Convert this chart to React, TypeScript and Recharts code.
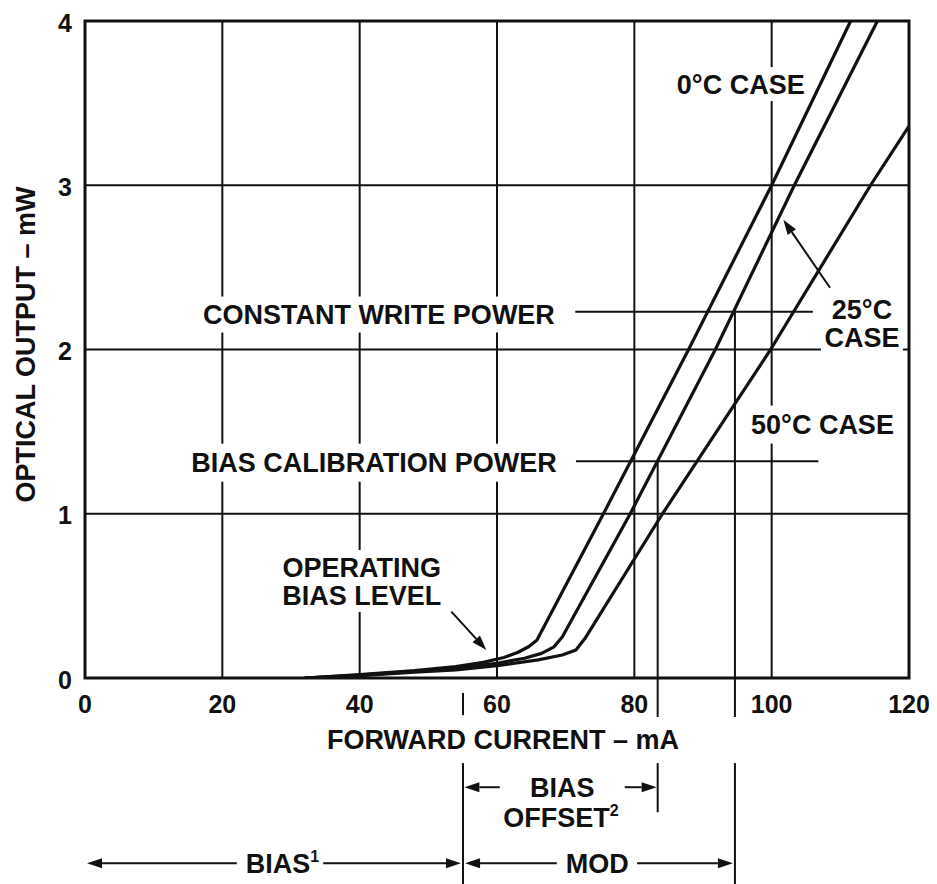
import React from 'react';
import {
  LineChart,
  Line,
  XAxis,
  YAxis,
  CartesianGrid,
  ReferenceLine,
  ReferenceDot,
  ReferenceArea,
} from 'recharts';

const xTicks = [0, 20, 40, 60, 80, 100, 120];
const yTicks = [0, 1, 2, 3, 4];

// forward current (mA) and optical output (mW)
const current0C = [32, 40, 48, 54, 58, 61, 63, 64.6, 65.8, 75.5, 87.9, 100, 111.5];
const output0C = [0, 0.02, 0.045, 0.07, 0.095, 0.125, 0.155, 0.19, 0.23, 1, 2, 3, 4];
const current25C = [32, 40, 48, 54, 60, 64, 66.5, 68.3, 69.5, 79.4, 91.8, 103.3, 115.4];
const output25C = [0, 0.018, 0.04, 0.06, 0.09, 0.12, 0.15, 0.19, 0.25, 1, 2, 3, 4];
const current50C = [32, 40, 48, 54, 60, 66, 69.5, 71.5, 72.8, 84.1, 99.85, 114.4, 120];
const output50C = [0, 0.015, 0.035, 0.05, 0.075, 0.11, 0.14, 0.17, 0.24, 1, 2, 3, 3.36];

// operating levels marked on the plot
const writePower = 2.23;
const biasCalPower = 1.32;
const biasCurrent = 55.05;
const offsetCurrent = 83.4;
const modCurrent = 94.65;

const toPoints = (xs: number[], ys: number[]) => xs.map((x, i) => ({ x, y: ys[i] }));

const INK = '#111';
const FONT = '"Liberation Sans", Arial, Helvetica, sans-serif';
const FS = 27;

type Note = {
  x: number;
  y: number;
  lines: string[];
  sup?: string;
  bg?: number;
  bgH?: number;
};

const notes: Note[] = [
  { x: 95.5, y: 3.616, lines: ['0°C CASE'], bg: 134, bgH: 34 },
  { x: 42.8, y: 2.213, lines: ['CONSTANT WRITE POWER'], bg: 372, bgH: 36 },
  { x: 42.1, y: 1.311, lines: ['BIAS CALIBRATION POWER'], bg: 380, bgH: 38 },
  { x: 113.15, y: 2.159, lines: ['25°C', 'CASE'], bg: 82, bgH: 60 },
  { x: 107.4, y: 1.543, lines: ['50°C CASE'], bg: 150, bgH: 38 },
  { x: 40.3, y: 0.591, lines: ['OPERATING', 'BIAS LEVEL'], bg: 166, bgH: 62 },
  { x: 69.5, y: -0.665, lines: ['BIAS'] },
  { x: 69.3, y: -0.848, lines: ['OFFSET'], sup: '2' },
  { x: 28.75, y: -1.128, lines: ['BIAS'], sup: '1' },
  { x: 74.6, y: -1.128, lines: ['MOD'] },
];

// [tailX, tailY, headX, headY]
const arrows = [
  [53.35, 0.404, 58.45, 0.171],
  [108.5, 2.376, 101.7, 2.79],
  [60.4, -0.665, biasCurrent + 0.2, -0.665],
  [78.6, -0.665, offsetCurrent - 0.15, -0.665],
  [22.1, -1.128, 0.3, -1.128],
  [34.7, -1.128, biasCurrent - 0.3, -1.128],
  [68.7, -1.128, biasCurrent + 0.3, -1.128],
  [80.4, -1.128, modCurrent - 0.3, -1.128],
];

// [x1, y1, x2, y2]
const leaders = [
  [71.4, writePower, 106, writePower],
  [71.5, biasCalPower, 106.8, biasCalPower],
  [offsetCurrent, biasCalPower, offsetCurrent, -0.238],
  [offsetCurrent, -0.518, offsetCurrent, -0.817],
  [modCurrent, writePower, modCurrent, -0.238],
  [modCurrent, -0.518, modCurrent, -1.3],
  [biasCurrent, -0.091, biasCurrent, -0.226],
  [biasCurrent, -0.518, biasCurrent, -1.3],
];

const arrowShape = (p: any) => {
  const { x1, y1, x2, y2 } = p;
  const dx = x2 - x1;
  const dy = y2 - y1;
  const len = Math.hypot(dx, dy) || 1;
  const ux = dx / len;
  const uy = dy / len;
  const hl = 15;
  const hw = 5;
  const bx = x2 - ux * hl;
  const by = y2 - uy * hl;
  return (
    <g>
      <line x1={x1} y1={y1} x2={bx} y2={by} stroke={INK} strokeWidth={2} />
      <polygon
        points={`${x2},${y2} ${bx - uy * hw},${by + ux * hw} ${bx + uy * hw},${by - ux * hw}`}
        fill={INK}
      />
    </g>
  );
};

const noteShape = (n: Note) => (p: any) => {
  const { cx, cy } = p;
  const lh = 28;
  const top = cy - (n.lines.length * lh) / 2;
  return (
    <g>
      {n.bg ? (
        <rect
          x={cx - n.bg / 2}
          y={cy - (n.bgH ?? 36) / 2}
          width={n.bg}
          height={n.bgH ?? 36}
          fill="#fff"
        />
      ) : null}
      <text
        textAnchor="middle"
        fontFamily={FONT}
        fontWeight={700}
        fontSize={FS}
        fill={INK}
      >
        {n.lines.map((l, i) => (
          <tspan key={i} x={cx} y={top + lh * i + lh / 2 + 0.36 * FS}>
            {l}
            {n.sup && i === n.lines.length - 1 ? (
              <tspan dy={-11} fontSize={16}>
                {n.sup}
              </tspan>
            ) : null}
          </tspan>
        ))}
      </text>
    </g>
  );
};

const XTick = (p: any) => (
  <text
    x={p.x}
    y={p.y + 35}
    textAnchor="middle"
    fontFamily={FONT}
    fontWeight={700}
    fontSize={25}
    fill={INK}
  >
    {p.payload.value}
  </text>
);

const YTick = (p: any) => (
  <text
    x={p.x - 13}
    y={p.y + 10.5}
    textAnchor="end"
    fontFamily={FONT}
    fontWeight={700}
    fontSize={25}
    fill={INK}
  >
    {p.payload.value}
  </text>
);

export default function App() {
  return (
    <div>
      <style>{'body{margin:0;background:#fff}'}</style>
      <LineChart
        width={937}
        height={884}
        margin={{ top: 21, right: 28, bottom: 0, left: 0 }}
      >
        <CartesianGrid
          stroke={INK}
          strokeWidth={2}
          horizontal={{ stroke: '#333', strokeWidth: 3 }}
          vertical={{ stroke: INK, strokeWidth: 2 }}
        />
        <XAxis
          type="number"
          dataKey="x"
          domain={[0, 120]}
          ticks={xTicks}
          interval={0}
          axisLine={false}
          tickLine={false}
          tickSize={0}
          tickMargin={0}
          height={206}
          tick={XTick}
          allowDataOverflow
          label={{
            value: 'FORWARD CURRENT – mA',
            position: 'insideTop',
            offset: 52,
            dx: 6,
            fill: INK,
            fontSize: FS,
            fontWeight: 700,
            fontFamily: FONT,
          }}
        />
        <YAxis
          type="number"
          dataKey="y"
          domain={[0, 4]}
          ticks={yTicks}
          interval={0}
          axisLine={false}
          tickLine={false}
          tickSize={0}
          tickMargin={0}
          width={85}
          tick={YTick}
          allowDataOverflow
          label={{
            value: 'OPTICAL OUTPUT – mW',
            angle: -90,
            position: 'center',
            dx: -17.5,
            dy: -5,
            fill: INK,
            fontSize: FS,
            fontWeight: 700,
            fontFamily: FONT,
          }}
        />
        <ReferenceArea
          x1={0}
          x2={120}
          y1={0}
          y2={4}
          fill="none"
          fillOpacity={0}
          stroke={INK}
          strokeWidth={3}
          ifOverflow="visible"
        />
        {notes.map((n, i) => (
          <ReferenceDot
            key={`note-${i}`}
            x={n.x}
            y={n.y}
            r={0}
            ifOverflow="visible"
            shape={noteShape(n)}
          />
        ))}
        {leaders.map((s, i) => (
          <ReferenceLine
            key={`lead-${i}`}
            segment={[
              { x: s[0], y: s[1] },
              { x: s[2], y: s[3] },
            ]}
            stroke={INK}
            strokeWidth={2}
            ifOverflow="visible"
          />
        ))}
        {arrows.map((a, i) => (
          <ReferenceLine
            key={`arrow-${i}`}
            segment={[
              { x: a[0], y: a[1] },
              { x: a[2], y: a[3] },
            ]}
            ifOverflow="visible"
            shape={arrowShape}
          />
        ))}
        <Line
          data={toPoints(current0C, output0C)}
          dataKey="y"
          type="linear"
          stroke={INK}
          strokeWidth={3.2}
          strokeLinejoin="round"
          dot={false}
          activeDot={false}
          isAnimationActive={false}
        />
        <Line
          data={toPoints(current25C, output25C)}
          dataKey="y"
          type="linear"
          stroke={INK}
          strokeWidth={3.2}
          strokeLinejoin="round"
          dot={false}
          activeDot={false}
          isAnimationActive={false}
        />
        <Line
          data={toPoints(current50C, output50C)}
          dataKey="y"
          type="linear"
          stroke={INK}
          strokeWidth={3.2}
          strokeLinejoin="round"
          dot={false}
          activeDot={false}
          isAnimationActive={false}
        />
      </LineChart>
    </div>
  );
}
